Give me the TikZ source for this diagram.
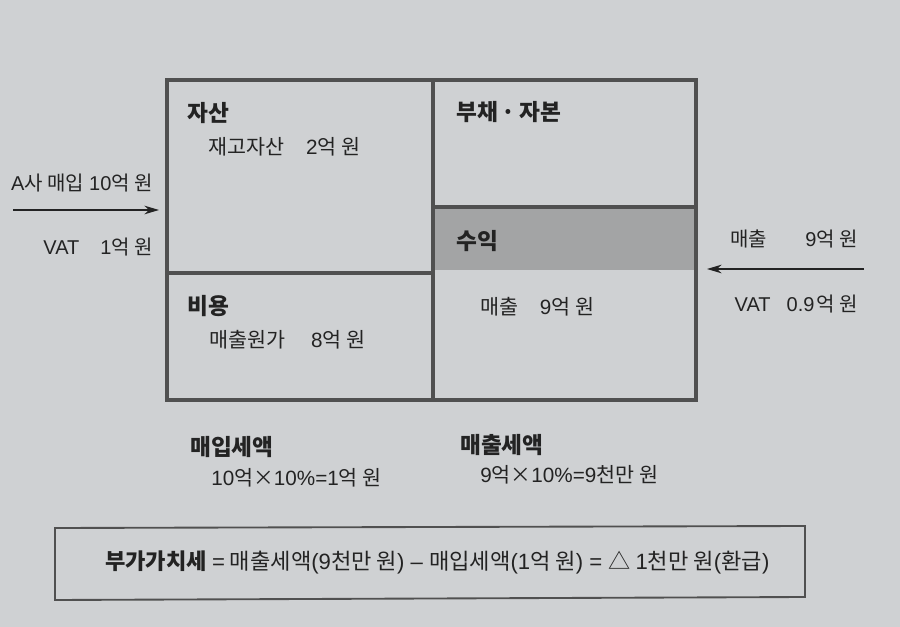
\documentclass[tikz,border=0pt]{standalone}
\usepackage{fontspec}
\setmainfont{Noto Sans CJK KR}
\newfontfamily\lat{Liberation Sans}
\usetikzlibrary{arrows.meta}
\definecolor{paper}{RGB}{207,209,211}
\definecolor{band}{RGB}{163,164,165}
\definecolor{ink}{RGB}{35,35,35}
\definecolor{frame}{RGB}{80,80,80}
\tikzset{
  head/.style={anchor=west, font=\fontsize{17}{19}\selectfont\bfseries, text=ink, inner sep=0pt},
  body/.style={anchor=west, font=\fontsize{15.5}{18}\selectfont, text=ink, inner sep=0pt},
  side/.style={font=\fontsize{15}{18}\selectfont, text=ink, inner sep=0pt},
  boxline/.style={draw=frame, line width=2.3pt},
  flow/.style={draw=ink, line width=0.8pt, -{Stealth[length=11pt,width=6.5pt]}},
}
\begin{document}
\begin{tikzpicture}[x=0.75pt,y=-0.75pt]
\fill[paper] (0,0) rectangle (900,627);
\useasboundingbox (0,0) rectangle (900,627);
% shaded band
\fill[band] (433,207) rectangle (696,270);
% main frame
\draw[boxline] (167,80) rectangle (696,400);
\draw[boxline] (433,80) -- (433,400);
\draw[boxline] (167,273) -- (433,273);
\draw[boxline] (433,207) -- (696,207);
% texts in the box
\node[head] (asset) at (187,113) {자산};
\node[body] (inv) at (208,147) {재고자산\hspace{1.05em}{\lat 2}억 원};
\node[head] (liab) at (456,112) {부채\,·\,자본};
\node[head] (rev) at (456,241) {수익};
\node[body] (sales) at (480,307) {매출\hspace{1.05em}{\lat 9}억 원};
\node[head] (cost) at (187,306) {비용};
\node[body] (cogs) at (209,340) {매출원가\hspace{1.25em}{\lat 8}억 원};
% left arrow
\node[side, anchor=east] (buy) at (153,183) {{\lat A}사 매입\hspace{0.25em}{\lat 10}억 원};
\node[side, anchor=east] (vatL) at (153,247) {{\lat VAT}\hspace{1.05em}{\lat 1}억 원};
\coordinate (lA) at (13,210);
\coordinate (lB) at (159,210);
\draw[flow] (lA) -- (lB);
% right arrow
\node[side, anchor=east] (sell) at (858,239) {매출\hspace{1.9em}{\lat 9}억 원};
\node[side, anchor=east] (vatR) at (858,304) {{\lat VAT}\hspace{0.8em}{\lat 0.9}\hspace{0.1em}억 원};
\coordinate (rA) at (864,269);
\coordinate (rB) at (707,269);
\draw[flow] (rA) -- (rB);
% tax amounts
\node[head] (intax) at (190,447) {매입세액};
\node[body] (intaxv) at (211,478) {{\lat 10}억×{\lat 10\%=1}억 원};
\node[head] (outtax) at (460,445) {매출세액};
\node[body] (outtaxv) at (480,475) {{\lat 9}억×{\lat 10\%=9}천만 원};
% bottom formula box
\draw[draw=frame, line width=1.4pt] (55,528) -- (805,526) -- (805,597) -- (55,600) -- cycle;
\node[anchor=west, inner sep=0pt, text=ink, font=\fontsize{16.6}{19}\selectfont] (vat) at (105,562)
  {\textbf{부가가치세} {\lat =} 매출세액{\lat (9}천만 원{\lat ) – }매입세액{\lat (1}억 원{\lat ) = }△ {\lat 1}천만 원{\lat (}환급{\lat )}};
\end{tikzpicture}
\end{document}
